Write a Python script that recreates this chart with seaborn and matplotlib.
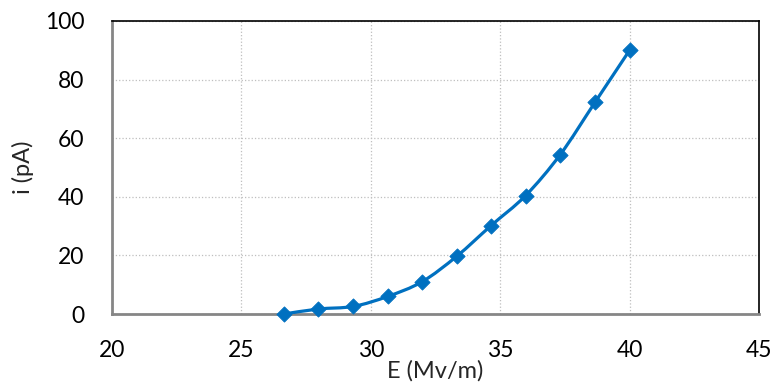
import numpy as np
import pandas as pd
import matplotlib
matplotlib.use("Agg")
import matplotlib.pyplot as plt
from matplotlib.path import Path
from matplotlib.patches import PathPatch
from matplotlib.ticker import MultipleLocator
import seaborn as sns

# data
field = [26.65, 27.97, 29.33, 30.65, 31.98, 33.32, 34.65, 35.98, 37.32, 38.66, 40.0]
current = [0.0, 1.7, 2.6, 6.0, 11.0, 19.7, 30.2, 40.4, 54.4, 72.2, 90.0]

x_ticks = [20, 25, 30, 35, 40, 45]
y_ticks = [0, 20, 40, 60, 80, 100]

blue = "#0070C0"

sns.set_theme(style="white")
plt.rcParams["font.family"] = ["Lato", "DejaVu Sans"]

df = pd.DataFrame({"E": field, "i": current})

fig, ax = plt.subplots(figsize=(7.74, 3.88), dpi=100)
fig.subplots_adjust(left=0.1447, right=0.9806, top=0.9459, bottom=0.1907)

# smoothed line (Excel style bezier through the points)
xs = np.array(field)
ys = np.array(current)
verts = [(xs[0], ys[0])]
codes = [Path.MOVETO]
t = 1 / 6
for k in range(len(xs) - 1):
    x0, y0 = (xs[k - 1], ys[k - 1]) if k > 0 else (xs[k], ys[k])
    x3, y3 = (xs[k + 2], ys[k + 2]) if k + 2 < len(xs) else (xs[k + 1], ys[k + 1])
    c1 = (xs[k] + (xs[k + 1] - x0) * t, ys[k] + (ys[k + 1] - y0) * t)
    c2 = (xs[k + 1] - (x3 - xs[k]) * t, ys[k + 1] - (y3 - ys[k]) * t)
    verts += [c1, c2, (xs[k + 1], ys[k + 1])]
    codes += [Path.CURVE4] * 3
ax.add_patch(PathPatch(Path(verts, codes), fill=False, edgecolor=blue, lw=2.3, zorder=3))

sns.scatterplot(data=df, x="E", y="i", marker="D", s=60, color=blue,
                edgecolor=blue, ax=ax, zorder=4, clip_on=False)

ax.set_xlim(20, 45)
ax.set_ylim(0, 100)
ax.set_xticks(x_ticks)
ax.set_yticks(y_ticks)
ax.xaxis.set_minor_locator(MultipleLocator(1))
ax.yaxis.set_minor_locator(MultipleLocator(10))
ax.grid(True, which="major", color="#BFBFBF", linestyle=":", lw=0.9)

ax.tick_params(which="both", direction="in", color="#868686", width=1.5,
               labelsize=16.5, labelcolor="black")
ax.tick_params(which="major", length=6)
ax.tick_params(which="minor", length=5)
ax.tick_params(axis="x", which="major", pad=19)
ax.tick_params(axis="y", which="major", pad=20)

for side in ["left", "bottom"]:
    ax.spines[side].set_color("#868686")
    ax.spines[side].set_linewidth(2)
for side in ["top", "right"]:
    ax.spines[side].set_color("black")
    ax.spines[side].set_linewidth(1.2)

ax.set_xlabel("E (Mv/m)", fontsize=17, labelpad=-1)
ax.set_ylabel("i (pA)", fontsize=17, labelpad=8)

plt.savefig("out.png", dpi=100)
